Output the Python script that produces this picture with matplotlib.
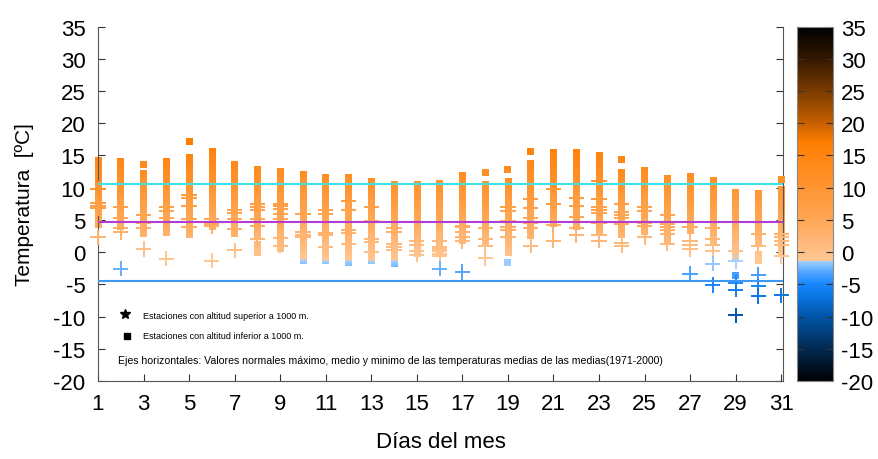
import numpy as np
import matplotlib
matplotlib.use('Agg')
import matplotlib.pyplot as plt
from matplotlib.colors import LinearSegmentedColormap, Normalize
from matplotlib.cm import ScalarMappable

plt.rcParams['font.family'] = ['Liberation Sans', 'DejaVu Sans']
plt.rcParams['axes.unicode_minus'] = False

# datos (temperaturas medias por estacion y dia)
days = list(range(1, 32))
bar_hi = [14.6, 14.6, 12.6, 14.5, 15.2, 16.0, 14.0, 13.3, 12.9, 12.4,
          12.1, 12.1, 11.4, 11.0, 10.9, 11.0, 12.4, 11.0, 11.4, 14.2,
          15.9, 15.9, 15.4, 12.9, 13.1, 12.0, 12.2, 11.6, 9.6, 9.6, 10.1]
bar_lo = [3.7, 3.5, 2.3, 2.5, 2.2, 3.4, 2.3, 2.1, 0.0, -1.9,
          -1.8, -2.1, -1.8, -2.3, -0.8, -0.5, 1.3, 0.8, -0.6, 2.0,
          3.9, 3.4, 2.6, 2.2, 2.6, 1.3, 2.8, 1.0, -1.6, 1.0, -0.5]
# estaciones sueltas (altitud inferior a 1000 m)
sq_days = [3, 5, 8, 8, 18, 19, 19, 20, 24, 29, 30, 30, 31]
sq_vals = [13.6, 17.1, 1.1, -0.1, 12.3, 12.8, -1.6, 15.6, 14.4, -3.6, -0.4, -1.3, 11.2]
# estaciones con altitud superior a 1000 m
plus_vals = [
    [9.8, 7.6, 7.2, 6.8, 2.3],
    [7.0, 5.3, 3.7, 3.1, -2.6],
    [5.8, 4.5, 3.8, 0.5],
    [7.0, 6.4, 5.3, 4.7, -1.0],
    [8.8, 8.4, 7.2, 5.2, 3.9],
    [5.1, 4.4, 4.0, -1.3],
    [6.5, 6.1, 5.2, 3.6, 0.3],
    [7.5, 7.0, 6.6, 5.1, 4.1, 2.1],
    [7.5, 7.1, 6.7, 5.9, 5.2, 2.2, 1.0],
    [5.9, 3.1, 2.7, 2.3],
    [6.5, 5.9, 3.0, 2.6, 0.8],
    [8.0, 6.5, 3.4, 3.0, 1.3],
    [7.0, 4.9, 4.7, 2.1, 1.6, 0.0],
    [3.7, 3.2, 1.3, 0.8, 0.3],
    [1.8, 1.1, 0.1, -0.4],
    [1.8, 0.8, 0.5, 0.1, -0.3, -0.6, -2.6],
    [4.1, 3.9, 3.1, 2.4, 1.7, -3.1],
    [3.8, 2.1, 0.9, -0.9],
    [7.0, 6.4, 4.9, 3.9, 3.4, 2.3],
    [8.3, 6.9, 5.3, 4.5, 3.7, 1.0],
    [9.8, 7.5, 4.2, 1.8],
    [8.4, 7.2, 5.4, 3.7, 2.6],
    [11.0, 8.3, 7.0, 6.6, 6.0, 4.5, 2.6, 1.8],
    [7.5, 6.3, 5.8, 5.3, 4.3, 1.4, 1.0],
    [7.0, 6.4, 4.5, 4.0, 2.3],
    [5.8, 4.4, 3.9, 3.4, 2.8, 1.3],
    [3.9, 1.8, 1.1, 0.5, -3.4],
    [3.8, 2.1, 1.1, 0.2, -1.8, -5.1],
    [0.2, -1.4, -4.8, -5.8, -9.8],
    [2.8, 1.0, -3.5, -5.3, -6.8],
    [2.8, 2.3, 1.7, 1.1, -0.6, -6.7],
]
normal_max = 10.5
normal_med = 4.7
normal_min = -4.5

vmin, vmax = -20, 35
stops = [(-20, '#000000'), (-15, '#022a52'), (-10, '#0055a8'), (-7, '#0a74e0'),
         (-5, '#1787ff'), (-3, '#55a8ff'), (-1.35, '#a8d2ff'), (-1.3, '#ffc892'),
         (0, '#ffc088'), (5, '#ffa756'), (10, '#ff9531'), (15, '#ff8512'),
         (17, '#ff7e00'), (20, '#c86000'), (25, '#7a3c00'), (30, '#341800'),
         (35, '#000000')]
cmap = LinearSegmentedColormap.from_list(
    'temp', [((v - vmin) / (vmax - vmin), c) for v, c in stops], N=512)
norm = Normalize(vmin, vmax)

fig = plt.figure(figsize=(8.79, 4.60), dpi=100)
W, H = 879.0, 460.0
ax = fig.add_axes([98 / W, 1 - 382 / H, (783 - 98) / W, (382 - 27.6) / H])

bw = 0.145
for d, lo, hi in zip(days, bar_lo, bar_hi):
    g = np.linspace(lo, hi, 80).reshape(-1, 1)
    ax.imshow(g, extent=(d - bw, d + bw, lo, hi), origin='lower', aspect='auto',
              cmap=cmap, norm=norm, interpolation='bilinear', zorder=2, clip_on=False)

ax.scatter(sq_days, sq_vals, c=sq_vals, cmap=cmap, norm=norm, marker='s', s=26,
           linewidths=0, zorder=3, clip_on=False)

px = [d for d, vals in zip(days, plus_vals) for v in vals]
py = [v for vals in plus_vals for v in vals]
ax.scatter(px, py, c=py, cmap=cmap, norm=norm, marker='+', s=120,
           linewidths=1.4, zorder=4, clip_on=False)

ax.axhline(normal_max, color='#3ee0e6', lw=1.5, zorder=5)
ax.axhline(normal_med, color='#b43cd2', lw=1.5, zorder=5)
ax.axhline(normal_min, color='#3d98f5', lw=1.5, zorder=5)

# leyenda dentro del grafico
ax.plot(2.2, -9.6, marker='*', color='k', ms=7, zorder=6)
ax.text(2.98, -9.9, 'Estaciones con altitud superior a 1000 m.', fontsize=6.5, va='center')
ax.plot(2.27, -13.0, marker='s', color='k', ms=4, zorder=6)
ax.text(2.98, -13.0, 'Estaciones con altitud inferior a 1000 m.', fontsize=6.5, va='center')
ax.text(1.88, -16.7, 'Ejes horizontales: Valores normales máximo, medio y minimo de las '
        'temperaturas medias de las medias(1971-2000)', fontsize=7.6, va='center')

ax.set_xlim(1, 31.08)
ax.set_ylim(-20, 35)
ax.set_xticks(range(1, 32, 2))
ax.set_yticks(range(-20, 36, 5))
ax.spines['top'].set_visible(False)
for s in ['left', 'right', 'bottom']:
    ax.spines[s].set_color('#555555')
ax.tick_params(direction='in', length=5, right=True, labelsize=16, pad=9, color='#333333')
ax.set_xlabel('Días del mes', fontsize=16, labelpad=12)
ax.set_ylabel('Temperatura  [ºC]', fontsize=15, labelpad=14)

cax = fig.add_axes([797 / W, 1 - 382 / H, 36 / W, (382 - 27.6) / H])
cb = fig.colorbar(ScalarMappable(norm=norm, cmap=cmap), cax=cax, ticks=range(-20, 36, 5))
cb.outline.set_edgecolor('#888888')
cax.tick_params(direction='in', length=5, left=True, right=True, labelsize=16, pad=6,
                color='#333333')

fig.savefig('out.png', dpi=100)
